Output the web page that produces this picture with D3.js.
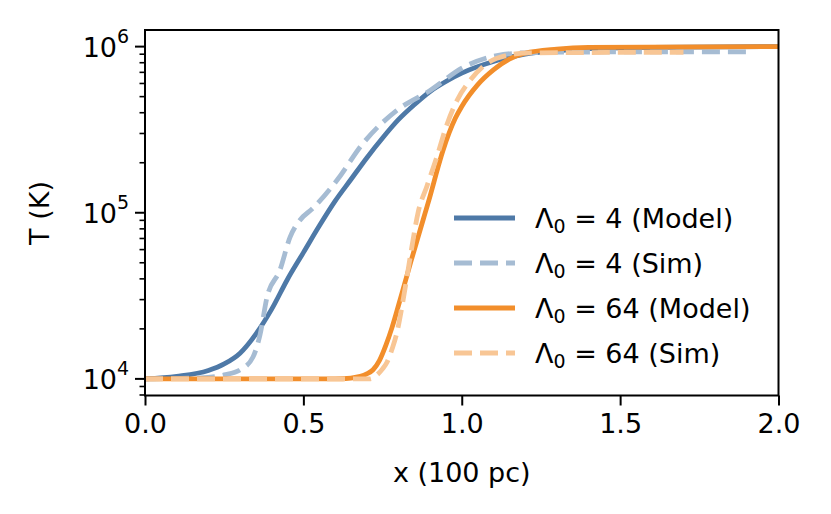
<!DOCTYPE html>
<html><head><meta charset="utf-8">
<script src="https://cdn.jsdelivr.net/npm/d3@7"></script>
<style>body{margin:0;background:#fff}svg{display:block}text{font-family:"DejaVu Sans",sans-serif;fill:#000}</style>
</head><body><svg id="c" width="831" height="514"></svg>
<script>
// x in units of 100 pc, values as log10(T / K)
const m4X   = [0,0.1,0.2,0.25,0.3,0.35,0.4,0.45,0.5,0.55,0.6,0.65,0.7,0.75,0.8,0.85,0.9,0.95,1.0,1.1,1.2,1.3,1.4,1.6,2.0];
const m4LogT= [4.0,4.015,4.05,4.09,4.155,4.27,4.42,4.6,4.76,4.92,5.07,5.2,5.33,5.45,5.56,5.65,5.73,5.79,5.84,5.91,5.955,5.975,5.988,5.996,6.0];
const s4X   = [0,0.174,0.25,0.30,0.341,0.363,0.385,0.426,0.458,0.489,0.53,0.606,0.688,0.795,0.90,1.004,1.111,1.215,1.5,1.9];
const s4LogT= [4.0,4.006,4.024,4.054,4.132,4.264,4.49,4.655,4.853,4.955,5.027,5.195,5.417,5.616,5.736,5.874,5.946,5.964,5.968,5.968];
const m64X   = [0,0.6,0.65,0.68,0.7,0.72,0.74,0.76,0.78,0.8,0.82,0.84,0.86,0.88,0.9,0.92,0.94,0.96,0.98,1.0,1.05,1.1,1.15,1.2,1.3,1.4,2.0];
const m64LogT= [4.0,4.0,4.005,4.015,4.03,4.055,4.11,4.2,4.31,4.44,4.575,4.71,4.84,4.97,5.1,5.24,5.37,5.48,5.57,5.64,5.77,5.86,5.925,5.96,5.985,5.995,6.0];
const s64X   = [0,0.71,0.73,0.75,0.764,0.78,0.795,0.811,0.827,0.843,0.862,0.89,0.922,0.953,0.985,1.026,1.067,1.111,1.215,1.70];
const s64LogT= [4.0,4.0,4.02,4.06,4.10,4.18,4.276,4.432,4.613,4.8,5.0,5.16,5.34,5.53,5.676,5.796,5.88,5.93,5.962,5.966];
const xTicks = [0.0,0.5,1.0,1.5,2.0];
const yMajorExp = [4,5,6];
const seriesNames = ["Λ0 = 4 (Model)","Λ0 = 4 (Sim)","Λ0 = 64 (Model)","Λ0 = 64 (Sim)"];
const seriesColors = ["#4e79a7","#a6bcd3","#f28e2b","#f8c695"];

const L=145,R=778.5,T=30,B=395.5;
const svg=d3.select("#c");
const x=d3.scaleLinear().domain([0,2]).range([L,R]);
const y=d3.scaleLog().domain([Math.pow(10,3.9),Math.pow(10,6.1)]).range([B,T]);

svg.append("clipPath").attr("id","clip").append("rect").attr("x",L).attr("y",T).attr("width",R-L).attr("height",B-T);

const series=[
 {xs:m4X,ys:m4LogT,dash:null},
 {xs:s4X,ys:s4LogT,dash:"18,8"},
 {xs:m64X,ys:m64LogT,dash:null},
 {xs:s64X,ys:s64LogT,dash:"18,8"}
];
const line=d3.line().x(d=>x(d[0])).y(d=>y(Math.pow(10,d[1]))).curve(d3.curveMonotoneX);
const g=svg.append("g").attr("clip-path","url(#clip)");
series.forEach((s,i)=>{
  const pts=s.xs.map((v,j)=>[v,s.ys[j]]);
  const p=g.append("path").attr("d",line(pts)).attr("fill","none").attr("stroke",seriesColors[i]).attr("stroke-width",4.8);
  if(s.dash) p.attr("stroke-dasharray",s.dash);
});

// axes
const xa=d3.axisBottom(x).tickValues(xTicks).tickFormat(d3.format(".1f")).tickSize(10).tickPadding(8);
const gx=svg.append("g").attr("transform",`translate(0,${B})`).call(xa);
gx.select(".domain").remove();
gx.selectAll("line").attr("stroke","#000").attr("stroke-width",2);
gx.selectAll("text").attr("font-size",27).attr("font-family","DejaVu Sans");

const minor=[];
[3,4,5].forEach(e=>{for(let k=2;k<=9;k++){const v=k*Math.pow(10,e); if(v>=y.domain()[0]&&v<=y.domain()[1]) minor.push(v);}});
const gy=svg.append("g");
minor.forEach(v=>gy.append("line").attr("x1",L).attr("x2",L-5.5).attr("y1",y(v)).attr("y2",y(v)).attr("stroke","#000").attr("stroke-width",1.6));
yMajorExp.forEach(e=>{
  const yy=y(Math.pow(10,e));
  gy.append("line").attr("x1",L).attr("x2",L-10).attr("y1",yy).attr("y2",yy).attr("stroke","#000").attr("stroke-width",2);
  gy.append("text").attr("x",L-28).attr("y",yy+10).attr("text-anchor","end").attr("font-size",27).text("10");
  gy.append("text").attr("x",L-16).attr("y",yy-4).attr("text-anchor","end").attr("font-size",19).text(String(e));
});

svg.append("rect").attr("x",L).attr("y",T).attr("width",R-L).attr("height",B-T).attr("fill","none").attr("stroke","#000").attr("stroke-width",2);

svg.append("text").attr("x",(L+R)/2).attr("y",482).attr("text-anchor","middle").attr("font-size",27).text("x (100 pc)");
svg.append("text").attr("transform","translate(49,213) rotate(-90)").attr("text-anchor","middle").attr("font-size",27).text("T (K)");

// legend
const lg=svg.append("g");
const rowY=[218,263,308,353];
seriesNames.forEach((n,i)=>{
  const l=lg.append("line").attr("x1",454).attr("x2",515).attr("y1",rowY[i]).attr("y2",rowY[i]).attr("stroke",seriesColors[i]).attr("stroke-width",4.8);
  if(series[i].dash) l.attr("stroke-dasharray",series[i].dash);
  const parts=n.split("0");
  const t=lg.append("text").attr("x",535).attr("y",rowY[i]+10).attr("font-size",27);
  t.append("tspan").text("Λ");
  t.append("tspan").attr("font-size",19).attr("dy",5).text("0");
  t.append("tspan").attr("dy",-5).text(parts.slice(1).join("0"));
});
</script></body></html>
